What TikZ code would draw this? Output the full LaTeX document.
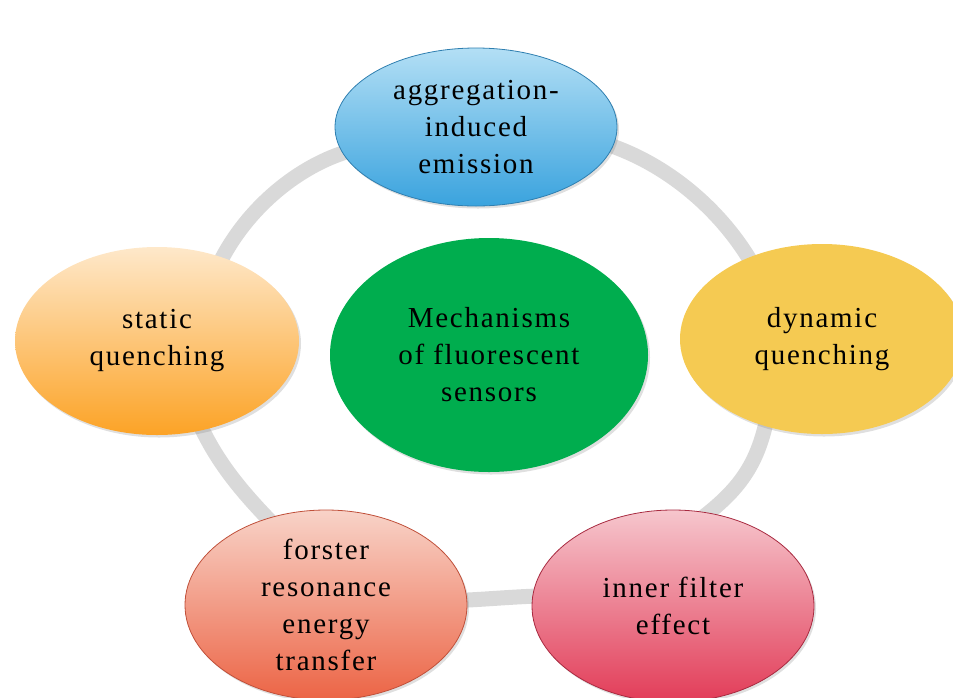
\documentclass[tikz,border=0pt]{standalone}
\usepackage{fontspec}
\setmainfont{Liberation Serif}[LetterSpace=6]
\usetikzlibrary{shapes.geometric,shadows,backgrounds}

\definecolor{ringgray}{HTML}{D9D9D9}
\definecolor{aietop}{HTML}{B3DFF5}
\definecolor{aiebot}{HTML}{3AA3DE}
\definecolor{aierim}{HTML}{2F7FB0}
\definecolor{dynfill}{HTML}{F5CA52}
\definecolor{stattop}{HTML}{FEE8CA}
\definecolor{statbot}{HTML}{FCA326}
\definecolor{frettop}{HTML}{F8D3C8}
\definecolor{fretbot}{HTML}{EC6445}
\definecolor{fretrim}{HTML}{C0503A}
\definecolor{ifetop}{HTML}{F6C6CD}
\definecolor{ifebot}{HTML}{E23C58}
\definecolor{iferim}{HTML}{A82A40}
\definecolor{mechfill}{HTML}{00AD4E}

\begin{document}
\begin{tikzpicture}[x=1pt, y=-1pt,
	bubble/.style={ellipse, inner sep=0pt, align=center,
		font=\fontsize{29}{37}\selectfont,
		drop shadow={opacity=0.25, shadow xshift=2pt, shadow yshift=-2.5pt}},
	ring/.style={line width=15pt, ringgray, shorten <=-8pt, shorten >=-8pt}]
	\clip (0,0) rectangle (953,697);

	%mechanisms
	\node (aie) at (476,127) [bubble, minimum width=282pt, minimum height=158pt,
		top color=aietop, bottom color=aiebot, draw=aierim, line width=0.8pt]
		{aggregation-\\induced\\emission};
	\node (dyn) at (822,339) [bubble, minimum width=284pt, minimum height=190pt,
		fill=dynfill] {dynamic\\quenching};
	\node (stat) at (157,341) [bubble, minimum width=284pt, minimum height=188pt,
		top color=stattop, bottom color=statbot] {static\\quenching};
	\node (fret) at (326,605) [bubble, minimum width=282pt, minimum height=190pt,
		top color=frettop, bottom color=fretbot, draw=fretrim, line width=0.8pt]
		{forster\\resonance\\energy\\transfer};
	\node (ife) at (673,606) [bubble, minimum width=282pt, minimum height=192pt,
		top color=ifetop, bottom color=ifebot, draw=iferim, line width=0.8pt]
		{inner filter\\effect};

	%centre
	\node (mech) at (489,355) [bubble, minimum width=318pt, minimum height=234pt,
		fill=mechfill] {Mechanisms\\of fluorescent\\sensors};

	%ring
	\begin{scope}[on background layer]
		\draw[ring] (stat.52) .. controls (247,207) and (300,165) .. (aie.191);
		\draw[ring] (aie.-8) .. controls (665,163) and (720,208) .. (dyn.132);
		\draw[ring] (dyn.237) .. controls (757,466) and (738,490) .. (ife.69);
		\draw[ring] (ife.176) .. controls (510,597) and (490,599) .. (fret.2);
		\draw[ring] (fret.124) .. controls (241,491) and (217,462) .. (stat.-63);
	\end{scope}
\end{tikzpicture}
\end{document}
